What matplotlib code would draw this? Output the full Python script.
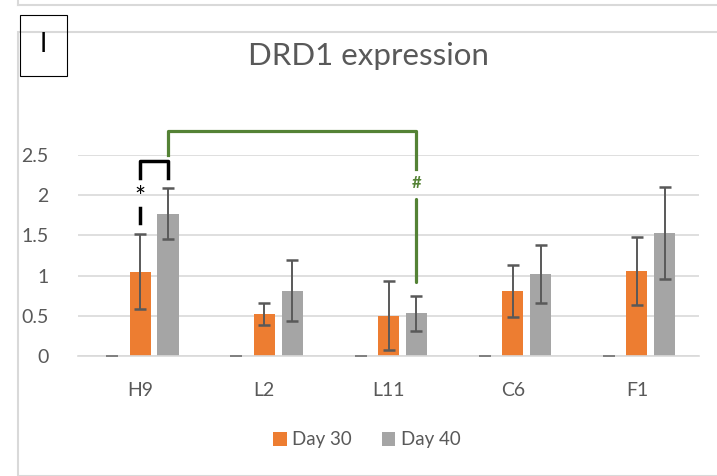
import matplotlib
matplotlib.use("Agg")
import matplotlib.pyplot as plt
from matplotlib.patches import Rectangle
from matplotlib.lines import Line2D
import numpy as np

plt.rcParams['font.family'] = ['Lato', 'DejaVu Sans']

categories = ["H9", "L2", "L11", "C6", "F1"]
zero_series = [0, 0, 0, 0, 0]
day30 = [1.05, 0.52, 0.50, 0.81, 1.06]
day30_err = [0.47, 0.14, 0.43, 0.32, 0.42]
day40 = [1.77, 0.81, 0.53, 1.02, 1.53]
day40_err = [0.32, 0.38, 0.22, 0.36, 0.575]
yticks = [0, 0.5, 1, 1.5, 2, 2.5]
ytick_labels = ["0", "0.5", "1", "1.5", "2", "2.5"]

W, H = 717, 476
fig = plt.figure(figsize=(W / 100, H / 100), dpi=100)
fig.patch.set_facecolor("white")

# chart borders
fig.add_artist(Rectangle((18 / W, 0), 1, 1 - 32 / H, transform=fig.transFigure,
                         fill=False, edgecolor="#d9d9d9", linewidth=1.5))
fig.add_artist(Line2D([18 / W, 1], [1 - 5 / H, 1 - 5 / H], transform=fig.transFigure,
                      color="#d9d9d9", linewidth=1.5))
fig.add_artist(Line2D([18 / W, 18 / W], [1 - 5 / H, 1], transform=fig.transFigure,
                      color="#d9d9d9", linewidth=1.5))

ax = fig.add_axes([78 / W, 1 - 356 / H, (699 - 78) / W, (356 - 155) / H])
x = np.arange(len(categories))
off = 0.225
bw = 0.17

ecol = "#595959"
ax.errorbar(x - off, zero_series, yerr=[0] * 5, fmt="none", ecolor="#7f7f7f",
            capsize=4.3, capthick=1.2, elinewidth=0, zorder=3)
ax.bar(x, day30, width=bw, color="#ed7d31", label="Day 30", zorder=2)
ax.bar(x + off, day40, width=bw, color="#a5a5a5", label="Day 40", zorder=2)
ax.errorbar(x, day30, yerr=day30_err, fmt="none", ecolor=ecol, capsize=4.3,
            capthick=1.8, elinewidth=1.4, zorder=3)
ax.errorbar(x + off, day40, yerr=day40_err, fmt="none", ecolor=ecol, capsize=4.3,
            capthick=1.8, elinewidth=1.4, zorder=3)

ax.set_xlim(-0.5, 4.5)
ax.set_ylim(0, 2.5)
ax.set_yticks(yticks)
ax.set_yticklabels(ytick_labels)
ax.set_xticks(x)
ax.set_xticklabels(categories)
ax.tick_params(axis="both", length=0, labelsize=14, labelcolor="#595959")
ax.tick_params(axis="x", pad=19)
ax.tick_params(axis="y", pad=21)
for lab in ax.get_yticklabels():
    lab.set_horizontalalignment("right")
ax.grid(axis="y", color="#d9d9d9", linewidth=1.2, zorder=0)
ax.set_axisbelow(True)
for s in ["top", "right", "left"]:
    ax.spines[s].set_visible(False)
ax.spines["bottom"].set_color("#d9d9d9")
ax.spines["bottom"].set_linewidth(1.2)

# significance annotations
green = "#548235"
ax.plot([off, off, 2 + off, 2 + off], [2.5, 2.80, 2.80, 2.33], color=green,
        linewidth=2.3, clip_on=False, zorder=4, solid_joinstyle="round")
ax.text(2 + off, 2.155, "#", color=green, fontsize=12, ha="center", va="center",
        fontweight="bold")
ax.plot([2 + off, 2 + off], [1.95, 0.92], color=green, linewidth=2.3, zorder=4,
        solid_capstyle="round")
ax.plot([0, 0, off, off], [2.21, 2.42, 2.42, 2.21], color="black", linewidth=2.5,
        clip_on=False, zorder=4)
ax.text(0, 1.96, "*", color="black", fontsize=19, ha="center", va="center")
ax.plot([0, 0], [1.84, 1.65], color="black", linewidth=2.5, zorder=4)

# title and panel label
fig.text(368 / W, 1 - 56 / H, "DRD1 expression", fontsize=22.5, color="#595959",
         ha="center", va="center")
fig.add_artist(Rectangle((20 / W, 1 - 76 / H), 47 / W, 61 / H, transform=fig.transFigure,
                         fill=False, edgecolor="black", linewidth=0.8))
fig.text(43.5 / W, 1 - 45 / H, "I", fontsize=19, color="black", ha="center", va="center")

leg = fig.legend(loc="center", bbox_to_anchor=(367 / W, 1 - 440 / H), ncol=2,
                 frameon=False, fontsize=13.5, handlelength=0.7, handleheight=0.7,
                 handletextpad=0.3, columnspacing=1.6)
for t in leg.get_texts():
    t.set_color("#595959")

fig.savefig("out.png", dpi=100, facecolor="white")
